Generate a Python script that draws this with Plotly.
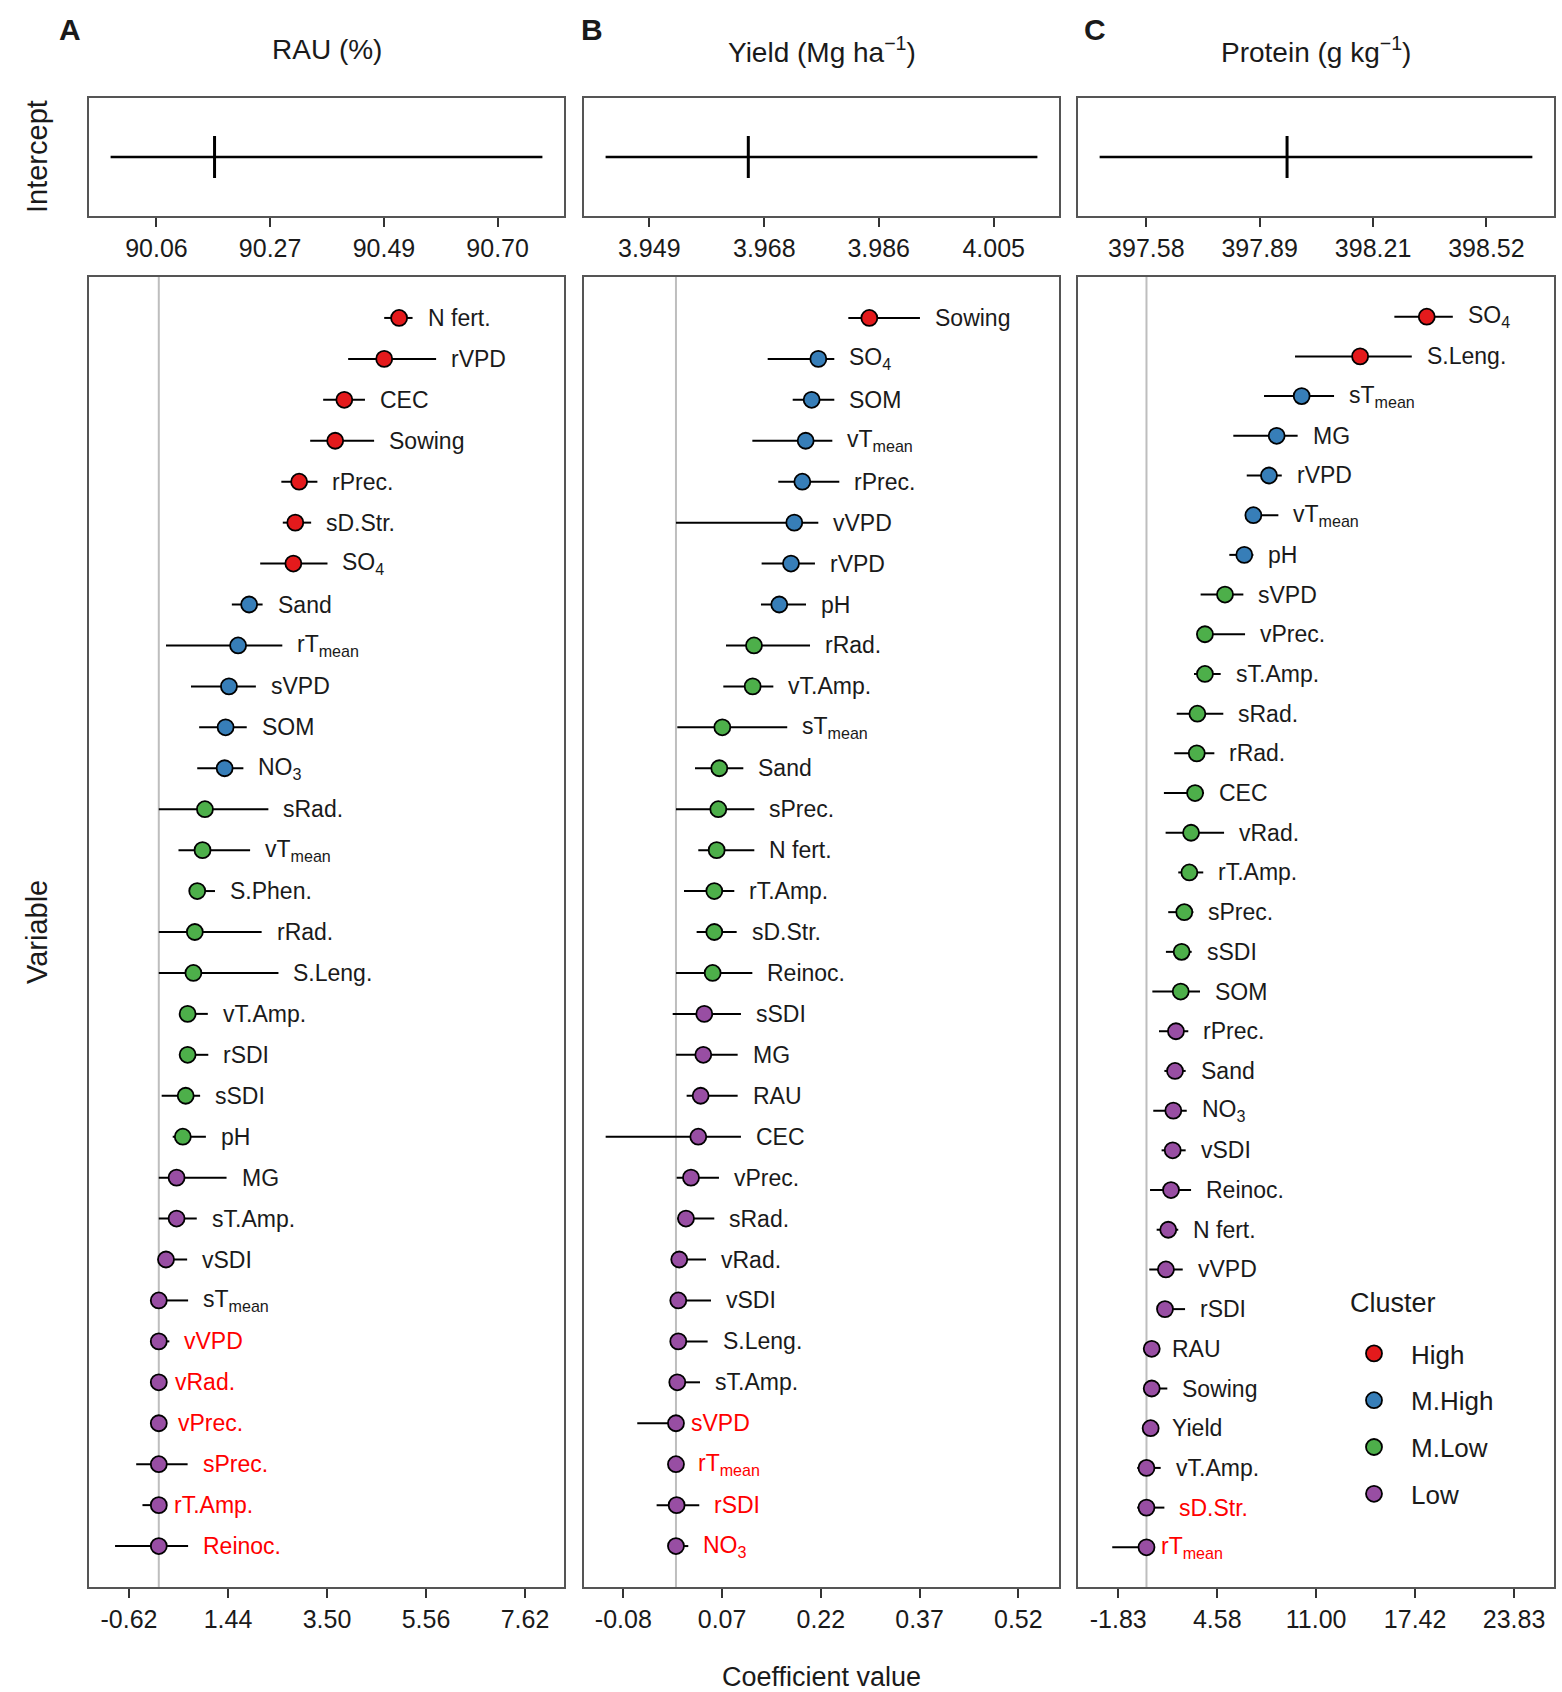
import plotly.graph_objects as go

W, H = 1562, 1692
FONT = "Liberation Sans, Arial, sans-serif"

# clusters and colours (legend order)
clusters = ["High", "M.High", "M.Low", "Low"]
cluster_colors = ["#E41A1C", "#377EB8", "#4DAF4A", "#984EA3"]

# intercept row: estimate with lower / upper bounds
panel_letters = ["A", "B", "C"]
panel_titles = ["RAU (%)", "Yield (Mg ha<sup>−1</sup>)", "Protein (g kg<sup>−1</sup>)"]
icpt_est = [90.169, 3.9651, 397.969]
icpt_lo = [89.974, 3.9419, 397.451]
icpt_hi = [90.784, 4.0121, 398.647]
icpt_tickvals = [[90.06, 90.2733, 90.4867, 90.70],
                 [3.949, 3.9677, 3.9863, 4.005],
                 [397.58, 397.8933, 398.2067, 398.52]]
icpt_ticktext = [["90.06", "90.27", "90.49", "90.70"],
                 ["3.949", "3.968", "3.986", "4.005"],
                 ["397.58", "397.89", "398.21", "398.52"]]

# coefficient panels
coef_tickvals = [[-0.62, 1.44, 3.50, 5.56, 7.62],
                 [-0.08, 0.07, 0.22, 0.37, 0.52],
                 [-1.83, 4.585, 11.00, 17.415, 23.83]]
coef_ticktext = [["-0.62", "1.44", "3.50", "5.56", "7.62"],
                 ["-0.08", "0.07", "0.22", "0.37", "0.52"],
                 ["-1.83", "4.58", "11.00", "17.42", "23.83"]]

# A: RAU
a_vars = ["N fert.", "rVPD", "CEC", "Sowing", "rPrec.", "sD.Str.", "SO4", "Sand",
          "rTmean", "sVPD", "SOM", "NO3", "sRad.", "vTmean", "S.Phen.", "rRad.",
          "S.Leng.", "vT.Amp.", "rSDI", "sSDI", "pH", "MG", "sT.Amp.", "vSDI",
          "sTmean", "vVPD", "vRad.", "vPrec.", "sPrec.", "rT.Amp.", "Reinoc."]
a_cluster = ["High"] * 7 + ["M.High"] * 5 + ["M.Low"] * 9 + ["Low"] * 10
a_est = [5.00, 4.69, 3.86, 3.67, 2.92, 2.84, 2.80, 1.88, 1.65, 1.46, 1.39, 1.37,
         0.96, 0.91, 0.80, 0.75, 0.72, 0.60, 0.60, 0.56, 0.50, 0.37, 0.37, 0.15,
         0.0, 0.0, 0.0, 0.0, 0.0, 0.0, 0.0]
a_lo = [4.69, 3.94, 3.42, 3.15, 2.55, 2.58, 2.11, 1.52, 0.15, 0.67, 0.84, 0.80,
        0.0, 0.41, 0.65, 0.0, 0.0, 0.44, 0.44, 0.06, 0.29, 0.0, 0.0, -0.01,
        0.0, 0.0, 0.0, 0.0, -0.47, -0.34, -0.91]
a_hi = [5.28, 5.77, 4.29, 4.48, 3.30, 3.17, 3.51, 2.16, 2.57, 2.02, 1.83, 1.76,
        2.28, 1.90, 1.17, 2.14, 2.49, 1.02, 1.03, 0.86, 0.98, 1.41, 0.79, 0.59,
        0.61, 0.22, 0.02, 0.08, 0.60, 0.0, 0.61]
a_red = ["vVPD", "vRad.", "vPrec.", "sPrec.", "rT.Amp.", "Reinoc."]

# B: Yield
b_vars = ["Sowing", "SO4", "SOM", "vTmean", "rPrec.", "vVPD", "rVPD", "pH",
          "rRad.", "vT.Amp.", "sTmean", "Sand", "sPrec.", "N fert.", "rT.Amp.",
          "sD.Str.", "Reinoc.", "sSDI", "MG", "RAU", "CEC", "vPrec.", "sRad.",
          "vRad.", "vSDI", "S.Leng.", "sT.Amp.", "sVPD", "rTmean", "rSDI", "NO3"]
b_cluster = ["High"] * 1 + ["M.High"] * 7 + ["M.Low"] * 9 + ["Low"] * 14
b_est = [0.2937, 0.2162, 0.2061, 0.1970, 0.1919, 0.1797, 0.1747, 0.1569,
         0.1185, 0.1165, 0.0704, 0.0658, 0.0643, 0.0618, 0.0582, 0.0582,
         0.0557, 0.0430, 0.0415, 0.0375, 0.0339, 0.0228, 0.0152, 0.0050,
         0.0035, 0.0035, 0.0020, 0.0, 0.0, 0.001, 0.0]
b_lo = [0.2618, 0.1393, 0.1773, 0.1160, 0.1554, 0.0, 0.1301, 0.1291,
        0.0760, 0.0719, 0.002, 0.0289, 0.0, 0.0339, 0.0122, 0.0314,
        0.0, -0.005, 0.0, 0.0162, -0.1068, 0.001, 0.002, 0.0,
        0.0, 0.0, 0.0, -0.0588, 0.0, -0.0294, 0.0]
b_hi = [0.3706, 0.2405, 0.2405, 0.2375, 0.2481, 0.2162, 0.2111, 0.1975,
        0.2036, 0.1479, 0.1690, 0.1023, 0.1190, 0.1190, 0.0886, 0.0922,
        0.1160, 0.0987, 0.0937, 0.0937, 0.0987, 0.0653, 0.0582, 0.0456,
        0.0532, 0.0481, 0.0365, 0.0, 0.0101, 0.0354, 0.0187]
b_red = ["sVPD", "rTmean", "rSDI", "NO3"]

# C: Protein
c_vars = ["SO4", "S.Leng.", "sTmean", "MG", "rVPD", "vTmean", "pH", "sVPD",
          "vPrec.", "sT.Amp.", "sRad.", "rRad.", "CEC", "vRad.", "rT.Amp.",
          "sPrec.", "sSDI", "SOM", "rPrec.", "Sand", "NO3", "vSDI", "Reinoc.",
          "N fert.", "vVPD", "rSDI", "RAU", "Sowing", "Yield", "vT.Amp.",
          "sD.Str.", "rTmean"]
c_cluster = ["High"] * 2 + ["M.High"] * 5 + ["M.Low"] * 11 + ["Low"] * 14
c_est = [18.17, 13.85, 10.06, 8.44, 7.94, 6.93, 6.34, 5.09, 3.79, 3.79, 3.30,
         3.26, 3.15, 2.89, 2.78, 2.45, 2.28, 2.22, 1.91, 1.85, 1.74, 1.70,
         1.59, 1.41, 1.26, 1.20, 0.34, 0.34, 0.27, 0.0, 0.0, 0.0]
c_lo = [16.07, 9.63, 7.62, 5.63, 6.50, 6.39, 5.37, 3.51, 3.26, 3.08, 1.96,
        1.80, 1.13, 1.24, 2.06, 1.41, 1.26, 0.38, 0.81, 1.16, 0.44, 0.98,
        0.23, 0.66, 0.18, 0.70, -0.20, -0.10, -0.20, -0.60, -0.60, -2.22]
c_hi = [19.86, 17.20, 12.16, 9.80, 8.77, 8.55, 6.93, 6.28, 6.39, 4.81, 4.98,
        4.40, 3.73, 5.03, 3.68, 3.04, 2.93, 3.47, 2.71, 2.54, 2.61, 2.54,
        2.89, 2.06, 2.35, 2.50, 0.70, 1.35, 0.70, 0.92, 1.16, 0.0]
c_red = ["sD.Str.", "rTmean"]

panels = [
    (a_vars, a_cluster, a_est, a_lo, a_hi, a_red),
    (b_vars, b_cluster, b_est, b_lo, b_hi, b_red),
    (c_vars, c_cluster, c_est, c_lo, c_hi, c_red),
]
coef_ranges = [[-1.452, 8.431], [-0.1397, 0.5818], [-4.44, 26.42]]

# layout in pixels
x_px = [(89, 564), (584, 1059), (1078, 1554)]
icpt_y_px = (98, 216)
main_y_px = (277, 1587)


def fx(px):
    return px / W


def fy(py):
    return 1 - py / H


def pretty(name):
    for base, sub in [("Tmean", "mean"), ("SO4", "4"), ("NO3", "3")]:
        if name.endswith(base):
            stem = name[: -len(sub)]
            return stem + "<sub>" + sub + "</sub>"
    return name


def paper_text(px, py, text, size, angle=0):
    return dict(x=fx(px), y=fy(py), xref="paper", yref="paper", text=text,
                xanchor="center", yanchor="middle", textangle=angle,
                showarrow=False, font=dict(size=size, color="#1a1a1a"))


fig = go.Figure()
axis_style = dict(showline=True, mirror=True, linecolor="#555555", linewidth=1.5,
                  showgrid=False, zeroline=False)
annotations = []
shapes = []

for i in range(3):
    ia = i + 1
    ma = i + 4
    x0, x1 = x_px[i]

    # intercept row
    lo, hi, est = icpt_lo[i], icpt_hi[i], icpt_est[i]
    pad = (hi - lo) * 0.05
    fig.add_trace(go.Scatter(x=[lo, hi], y=[0, 0], mode="lines",
                             line=dict(color="black", width=2.5),
                             xaxis=f"x{ia}", yaxis=f"y{ia}", showlegend=False,
                             hoverinfo="skip"))
    fig.add_trace(go.Scatter(x=[est], y=[0], mode="markers",
                             marker=dict(symbol="line-ns", size=30,
                                         line=dict(color="black", width=3)),
                             xaxis=f"x{ia}", yaxis=f"y{ia}", showlegend=False))
    fig.layout[f"xaxis{ia}"] = dict(
        axis_style, domain=[fx(x0), fx(x1)], anchor=f"y{ia}",
        range=[lo - pad, hi + pad], tickvals=icpt_tickvals[i],
        ticktext=icpt_ticktext[i], ticks="outside", ticklen=9, tickwidth=2,
        tickcolor="#333333", tickfont=dict(size=25, color="#1a1a1a"))
    fig.layout[f"yaxis{ia}"] = dict(
        axis_style, domain=[fy(icpt_y_px[1]), fy(icpt_y_px[0])], anchor=f"x{ia}",
        range=[-1, 1], showticklabels=False, ticks="")

    # coefficient panel
    vars_, cl, est_l, lo_l, hi_l, red = panels[i]
    for k, cname in enumerate(clusters):
        idx = [j for j, c in enumerate(cl) if c == cname]
        if not idx:
            continue
        fig.add_trace(go.Scatter(
            x=[est_l[j] for j in idx], y=[vars_[j] for j in idx], mode="markers",
            error_x=dict(type="data", symmetric=False,
                         array=[hi_l[j] - est_l[j] for j in idx],
                         arrayminus=[est_l[j] - lo_l[j] for j in idx],
                         color="black", thickness=2, width=0),
            marker=dict(size=16, color=cluster_colors[k],
                        line=dict(color="black", width=1.8)),
            name=cname, legendgroup=cname, showlegend=(i == 0),
            xaxis=f"x{ma}", yaxis=f"y{ma}"))
    fig.layout[f"xaxis{ma}"] = dict(
        axis_style, domain=[fx(x0), fx(x1)], anchor=f"y{ma}",
        range=coef_ranges[i], tickvals=coef_tickvals[i], ticktext=coef_ticktext[i],
        ticks="outside", ticklen=9, tickwidth=2, tickcolor="#333333",
        tickfont=dict(size=25, color="#1a1a1a"))
    fig.layout[f"yaxis{ma}"] = dict(
        axis_style, domain=[fy(main_y_px[1]), fy(main_y_px[0])], anchor=f"x{ma}",
        type="category", categoryorder="array", categoryarray=vars_,
        range=[len(vars_), -1], showticklabels=False, ticks="")

    shapes.append(dict(type="line", xref=f"x{ma}", yref=f"y{ma} domain",
                       x0=0, x1=0, y0=0, y1=1, layer="below",
                       line=dict(color="#bebebe", width=2)))

    for j, v in enumerate(vars_):
        annotations.append(dict(
            x=hi_l[j], y=v, xref=f"x{ma}", yref=f"y{ma}", text=pretty(v),
            xanchor="left", yanchor="middle", xshift=13, showarrow=False,
            font=dict(size=23, color="#ff0000" if v in red else "#1a1a1a")))

    # panel letter and title
    annotations.append(paper_text([70, 592, 1095][i], 30,
                                  f"<b>{panel_letters[i]}</b>", 30))
    annotations.append(paper_text((x0 + x1) / 2, 50, panel_titles[i], 28))

annotations += [
    paper_text(37, 157, "Intercept", 29, -90),
    paper_text(37, 932, "Variable", 29, -90),
    paper_text(821, 1677, "Coefficient value", 27),
    dict(x=fx(1348), y=fy(1303), xref="paper", yref="paper", text="Cluster",
         xanchor="left", yanchor="middle", showarrow=False,
         font=dict(size=27, color="#1a1a1a")),
]

fig.update_layout(
    width=W, height=H, autosize=False,
    margin=dict(l=0, r=0, t=0, b=0),
    paper_bgcolor="white", plot_bgcolor="white",
    font=dict(family=FONT, color="#1a1a1a"),
    annotations=annotations, shapes=shapes,
    legend=dict(x=fx(1337), y=fy(1330), xanchor="left", yanchor="top",
                font=dict(size=26), traceorder="grouped", tracegroupgap=10,
                itemwidth=64, bgcolor="rgba(0,0,0,0)", itemsizing="trace"),
)

fig.write_html("out.html", config={"displayModeBar": False},
               post_script="document.body.style.margin='0px';")
